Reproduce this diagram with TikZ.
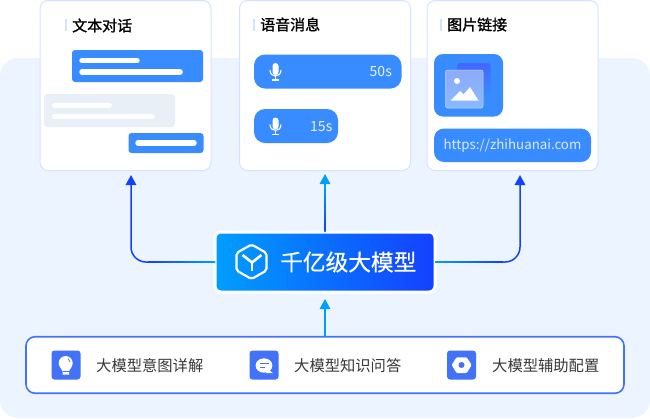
\documentclass[tikz,border=0pt]{standalone}
\usepackage{fontspec}
\setmainfont{Noto Sans CJK SC}
\newfontfamily\titlefont[FakeBold=1.2]{Noto Sans CJK SC}
\newfontfamily\modelfont[FakeBold=0.5]{Noto Sans CJK SC}
\usetikzlibrary{arrows.meta}
\definecolor{panelbg}{HTML}{ECF5FF}
\definecolor{cardedge}{HTML}{D6E3FF}
\definecolor{bubbleblue}{HTML}{388CFF}
\definecolor{bubblegrey}{HTML}{E9EFF7}
\definecolor{iconblue}{HTML}{4172F8}
\definecolor{flowcyan}{HTML}{009EFF}
\definecolor{flowblue}{HTML}{1440FF}
\tikzset{
	card/.style={draw=cardedge, line width=1pt, fill=white, rounded corners=8pt, anchor=north west, minimum width=171pt, minimum height=170pt, inner sep=0pt, outer sep=0pt},
	marker/.style={fill=cardedge, anchor=north west, minimum width=2pt, minimum height=12pt, inner sep=0pt, outer sep=0pt},
	cardtitle/.style={anchor=west, inner sep=0pt, font=\fontsize{15}{15}\selectfont\titlefont},
	bubble/.style={fill=bubbleblue, anchor=north west, rounded corners=3pt, inner sep=0pt, outer sep=0pt},
	greybubble/.style={bubble, fill=bubblegrey},
	voice/.style={bubble, rounded corners=11pt, minimum height=34pt},
	voicetext/.style={anchor=east, inner sep=0pt, text=white!90!bubbleblue, font=\fontsize{14}{14}\selectfont},
	textbar/.style={line width=5.5pt, line cap=round, white},
	flow/.style={line width=1.5pt, -{Triangle[width=10.5pt,length=10pt]}},
	itemicon/.style={fill=iconblue, rounded corners=3pt, minimum size=29pt, inner sep=0pt, outer sep=0pt},
	itemtext/.style={anchor=west, inner sep=0pt, text=black!78, font=\fontsize{15.3}{15}\selectfont},
	mic/.pic={
		\fill [white, rounded corners=3pt] (-3,-9) rectangle (3,3);
		\draw [white, line width=1.1pt] (-5.5,-2) .. controls (-5.5,6) and (5.5,6) .. (5.5,-2);
		\draw [white, line width=1.1pt] (0,4) -- (0,8);
		\draw [white, line width=1.1pt] (-3.5,8) -- (3.5,8);
	}
}
\begin{document}
\begin{tikzpicture}[x=1pt, y=-1pt]
	\useasboundingbox (0,0) rectangle (650,418);
	\fill [panelbg, rounded corners=18pt] (0,58) rectangle (650,418);

	% cards on top
	\node [card] (cardtext) at (40,0.5) {};
	\node [card] (cardvoice) at (239.5,0.5) {};
	\node [card] (cardimage) at (427,0.5) {};
	\node [marker] at (65,19) {};
	\node [marker] at (252.5,19) {};
	\node [marker] at (440,19) {};
	\node [cardtitle] at (72,25.5) {文本对话};
	\node [cardtitle] at (260,24.5) {语音消息};
	\node [cardtitle] at (447,24.5) {图片链接};

	% text chat
	\node [bubble, minimum width=131pt, minimum height=32pt] at (72,50) {};
	\node [greybubble, minimum width=131pt, minimum height=33pt] at (44,94) {};
	\node [bubble, minimum width=75pt, minimum height=20pt] at (128.5,133) {};
	\foreach \xa/\xb/\yy in {82/137/60.5, 82/180/72, 138/194/143}
		\draw [textbar] (\xa,\yy) -- (\xb,\yy);
	\foreach \xa/\xb/\yy in {54.5/109.5/105, 54.5/152.5/116.5}
		\draw [textbar, line width=5pt] (\xa,\yy) -- (\xb,\yy);

	% voice messages
	\node [voice, minimum width=147.5pt] (voicelong) at (254,54.5) {};
	\node [voice, minimum width=84pt] (voiceshort) at (254,109) {};
	\pic at (275.5,72) {mic};
	\pic at (275.5,126.5) {mic};
	\node [voicetext] at (392,72) {50s};
	\node [voicetext] at (332.5,126.5) {15s};

	% picture tile and link
	\node [bubble, rounded corners=9pt, minimum width=69pt, minimum height=62.5pt] (imagetile) at (434,54) {};
	\shade [top color=flowblue!80!white, bottom color=bubbleblue, rounded corners=3pt] (457,63) rectangle (490.5,96);
	\shade [top color=iconblue!60!white, bottom color=bubbleblue!60!white, draw=white!70!bubbleblue, line width=0.5pt, rounded corners=2pt] (445.5,70) rectangle (483,108);
	\fill [white] (457,81) circle (3);
	\fill [white] (450.5,100.5) -- (460,91) -- (463.5,94.5) -- (470,87) -- (478.5,100.5) -- cycle;
	\node [bubble, rounded corners=10pt, minimum width=157pt, minimum height=33.5pt] (linkbar) at (434,128.5) {};
	\node [inner sep=0pt, text=white!82!bubbleblue, font=\fontsize{13.3}{13.5}\selectfont] at (512.5,146) {https://zhihuanai.com};

	% model box and bottom box
	\node [draw=white, line width=3pt, left color=flowcyan, right color=flowblue, rounded corners=6pt, minimum width=220pt, minimum height=60pt, inner sep=0pt, outer sep=0pt] (model) at (325,262) {};
	\node [anchor=west, inner sep=0pt, text=white, font=\fontsize{22.7}{23}\selectfont\modelfont] at (280,262) {千亿级大模型};
	\draw [white, line width=2.2pt, rounded corners=2pt, line join=round] (251.5,244.5) -- (266.5,253) -- (266.5,270.5) -- (251.5,279) -- (236.5,270.5) -- (236.5,253) -- cycle;
	\draw [white, line width=2.6pt, line join=round] (242.5,255) -- (252,262.5) -- (261.5,255);
	\draw [white, line width=2.6pt] (252,262.5) -- (252,271);
	\node [draw=iconblue, line width=1.6pt, fill=white, rounded corners=9pt, minimum width=598pt, minimum height=56.5pt, inner sep=0pt, outer sep=0pt] (itembox) at (325,365) {};

	% connectors
	\coordinate (tipleft) at (131,175);
	\coordinate (tipmid) at (325,174);
	\coordinate (tipright) at (520,175);
	\draw [flow, flowblue, rounded corners=15pt] (model.west) -| (tipleft);
	\draw [flow, flowblue, rounded corners=15pt] (model.east) -| (tipright);
	\draw [flow, flowcyan] (model.north) -- (tipmid);
	\draw [flow, flowcyan, shorten >=7pt] (itembox.north) -- (model.south);
	\shade [left color=flowblue, right color=flowcyan] (148,261.25) rectangle (215,262.75);
	\shade [left color=flowcyan, right color=flowblue] (435,261.25) rectangle (503,262.75);
	\shade [top color=flowcyan, bottom color=flowblue] (324.25,186) rectangle (325.75,230);

	% bottom items
	\node [itemicon] (iconbulb) at (66,365) {};
	\node [itemicon] (iconchat) at (264,365) {};
	\node [itemicon] (icongear) at (461.5,365) {};
	\node [itemtext] at (96,365.5) {大模型意图详解};
	\node [itemtext] at (294,365.5) {大模型知识问答};
	\node [itemtext] at (492,365.5) {大模型辅助配置};

	\fill [white] (65.7,363) circle (7);
	\fill [white] (60,367) -- (71.5,367) -- (69,371) -- (69,374.5) -- (62.5,374.5) -- (62.5,371) -- cycle;
	\draw [iconblue, line width=0.6pt] (62.5,371.5) -- (69,371.5);
	\draw [iconblue, line width=0.7pt] (68,358.5) -- (70,362);
	\fill [white] (264,365.5) ellipse (8.4 and 7.2);
	\fill [white] (268,369) -- (272.8,373) -- (266,373) -- cycle;
	\draw [iconblue, line width=1.2pt] (260,363.5) -- (269,363.5);
	\draw [iconblue, line width=1.2pt] (260,367.5) -- (265,367.5);
	\fill [white, rounded corners=1pt] (451.7,365) -- (456.5,357.3) -- (466.7,357.3) -- (471.7,365) -- (466.7,373) -- (456.5,373) -- cycle;
	\fill [iconblue] (461.5,365) circle (3);
\end{tikzpicture}
\end{document}
